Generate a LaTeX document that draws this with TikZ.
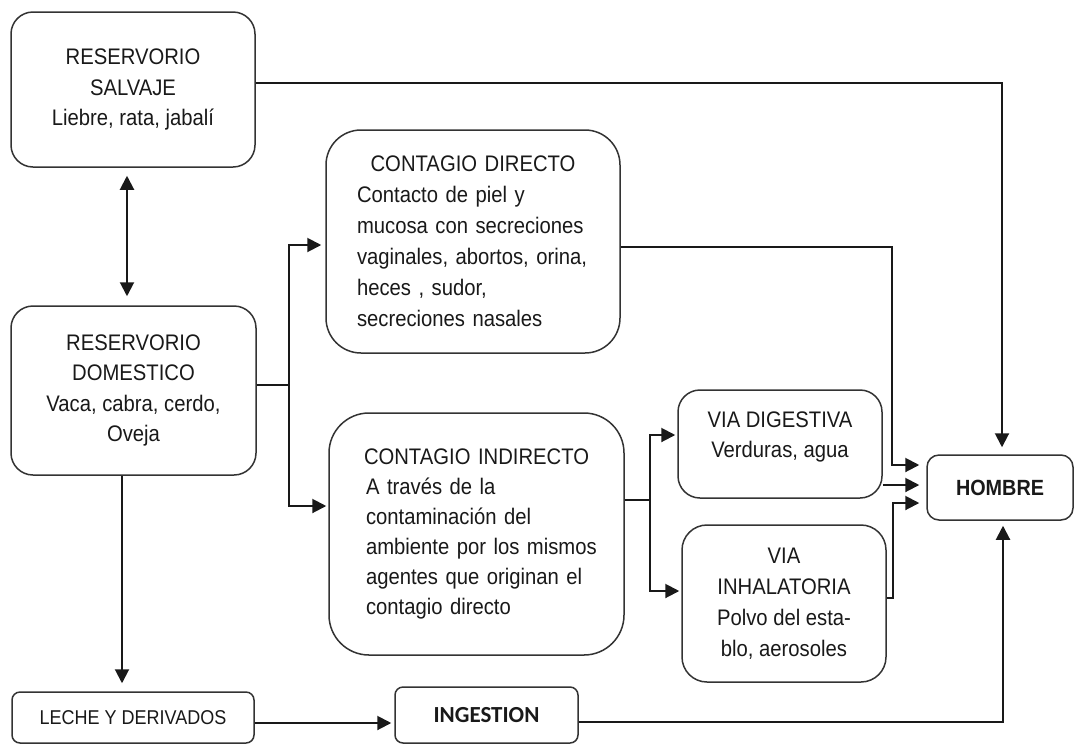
\documentclass[tikz,border=0pt]{standalone}
\usepackage{fontspec}
\setmainfont{Liberation Sans}[FakeStretch=0.9]
\newfontfamily\ingfont{Carlito}
\usetikzlibrary{arrows.meta}
\begin{document}
\begin{tikzpicture}[x=1pt,y=-1pt,
  box/.style={draw=black!80, line width=1.5pt, fill=white, text=black!90,
    align=center, inner sep=0pt, font=\fontsize{22.5}{30.5}\selectfont},
  conn/.style={line width=2pt, draw=black!90},
  arr/.style={conn, -{Triangle[length=14pt,width=14pt]}}]
\useasboundingbox (0,0) rectangle (1078,745);

% boxes
\node[box, rounded corners=22pt, minimum width=244pt, minimum height=155pt] (salv) at (133,89.5)
  {RESERVORIO\\SALVAJE\\Liebre, rata, jabalí};
\node[box, rounded corners=22pt, minimum width=245pt, minimum height=169pt] (dom) at (133.5,390.5)
  {RESERVORIO\\DOMESTICO\\Vaca, cabra, cerdo,\\Oveja};
\node[box, rounded corners=8pt, minimum width=242pt, minimum height=51pt,
  font=\fontsize{20}{24}\selectfont] (leche) at (133,717.5) {LECHE Y DERIVADOS};
\node[box, rounded corners=8pt, minimum width=183pt, minimum height=56pt,
  font=\ingfont\bfseries\fontsize{23}{26}\selectfont] (ing) at (486.5,715) {INGESTION};
\node[box, rounded corners=35pt, minimum width=294pt, minimum height=223pt,
  text width=232pt, align=left, font=\fontsize{22.5}{31}\selectfont] (dir) at (473,241.5)
  {\makebox[\linewidth]{CONTAGIO DIRECTO}\\\mbox{Contacto de piel y}\\\mbox{mucosa con secreciones}\\\mbox{vaginales, abortos, orina,}\\\mbox{heces , sudor,}\\\mbox{secreciones nasales}};
\node[box, rounded corners=40pt, minimum width=295pt, minimum height=242pt,
  text width=221pt, align=left, font=\fontsize{22.5}{30}\selectfont] (ind) at (476.5,534)
  {\makebox[\linewidth]{CONTAGIO INDIRECTO}\\\mbox{A través de la}\\\mbox{contaminación del}\\\mbox{ambiente por los mismos}\\\mbox{agentes que originan el}\\\mbox{contagio directo}};
\node[box, rounded corners=22pt, minimum width=204pt, minimum height=108pt] (dig) at (780,444)
  {VIA DIGESTIVA\\Verduras, agua\\[-12pt]~};
\node[box, rounded corners=25pt, minimum width=204pt, minimum height=157pt,
  font=\fontsize{22.5}{31}\selectfont] (inh) at (784,603.5)
  {VIA\\INHALATORIA\\Polvo del esta-\\blo, aerosoles};
\node[box, rounded corners=12pt, minimum width=146pt, minimum height=65pt,
  font=\bfseries\fontsize{22}{26}\selectfont] (hom) at (1000,487.5) {HOMBRE};

% junctions
\coordinate (j1) at (289,385);
\coordinate (j2) at (650,500);

% connectors
\draw[arr, shorten >=7pt] (salv.east |- 0,83) -| (hom.north -| 1002,0);
\draw[conn, {Triangle[length=14pt,width=14pt]}-{Triangle[length=14pt,width=14pt]},
  shorten <=8pt, shorten >=9pt] (salv.south -| 127,0) -- (dom.north -| 127,0);
\draw[conn] (dom.east |- j1) -- (j1);
\draw[arr, shorten >=4pt] (j1) |- (dir.west |- 0,245);
\draw[arr, shorten >=2pt] (j1) |- (ind.west |- 0,506);
\draw[arr, shorten >=7pt] (dir.east |- 0,247) -| (892,465) -- (hom.west |- 0,465);
\draw[arr, shorten >=7pt] (dig.east |- 0,485) -- (hom.west |- 0,485);
\draw[arr, shorten >=7pt] (inh.east |- 0,598) -| (893,503) -- (hom.west |- 0,503);
\draw[conn] (ind.east |- j2) -- (j2);
\draw[arr, shorten >=2pt] (j2) |- (dig.west |- 0,435);
\draw[arr, shorten >=2pt] (j2) |- (inh.west |- 0,591);
\draw[arr, shorten >=8pt] (dom.south -| 122,0) -- (leche.north -| 122,0);
\draw[arr, shorten >=3pt] (leche.east |- 0,723) -- (ing.west |- 0,723);
\draw[arr, shorten >=5pt] (ing.east |- 0,722) -| (hom.south -| 1003,0);
\end{tikzpicture}
\end{document}
